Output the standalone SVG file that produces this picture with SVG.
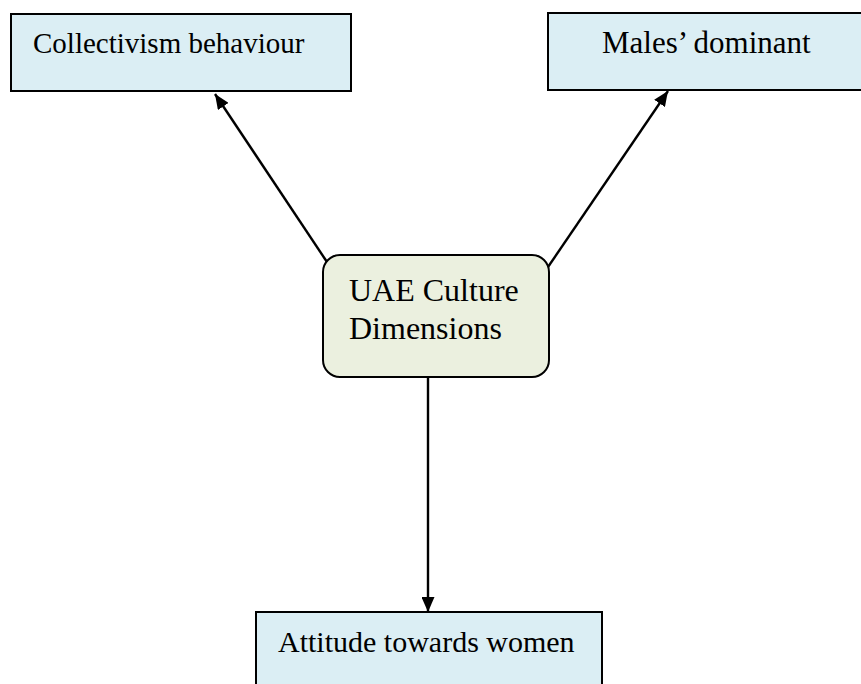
<svg xmlns="http://www.w3.org/2000/svg" width="861" height="684" viewBox="0 0 861 684">
  <defs>
    <marker id="arrow" markerUnits="userSpaceOnUse" markerWidth="16" markerHeight="13" refX="15" refY="6.5" orient="auto">
      <path d="M0,0 L15,6.5 L0,13 Z" fill="#000"/>
    </marker>
    <style>
      .box { fill: #DBEEF4; stroke: #000; stroke-width: 2; }
      .core { fill: #EBF0DF; stroke: #000; stroke-width: 2; }
      .lbl { font-family: "Liberation Serif", "Times New Roman", serif; font-size: 30px; fill: #000; }
      .conn { stroke: #000; stroke-width: 2.4; fill: none; marker-end: url(#arrow); }
    </style>
  </defs>

  <rect width="861" height="684" fill="#fff"/>

  <!-- connectors from the central node -->
  <g id="connectors">
    <line class="conn" x1="327" y1="262" x2="215" y2="94"/>
    <line class="conn" x1="548" y1="267" x2="668" y2="91"/>
    <line class="conn" x1="428" y1="377" x2="428" y2="612"/>
  </g>

  <g id="collectivism">
    <rect class="box" x="11" y="14" width="340" height="77"/>
    <text class="lbl" x="33" y="53" style="font-size:29px">Collectivism behaviour</text>
  </g>

  <g id="males-dominant">
    <rect class="box" x="548" y="13" width="320" height="77"/>
    <text class="lbl" x="602" y="53" style="font-size:31px">Males’ dominant</text>
  </g>

  <g id="uae-culture">
    <rect class="core" x="323" y="255" width="226" height="122" rx="17" ry="17"/>
    <text class="lbl" x="349" y="301" style="font-size:32px">UAE Culture</text>
    <text class="lbl" x="349" y="339" style="font-size:32px">Dimensions</text>
  </g>

  <g id="attitude">
    <rect class="box" x="256" y="612" width="346" height="90"/>
    <text class="lbl" x="278" y="652">Attitude towards women</text>
  </g>
</svg>
